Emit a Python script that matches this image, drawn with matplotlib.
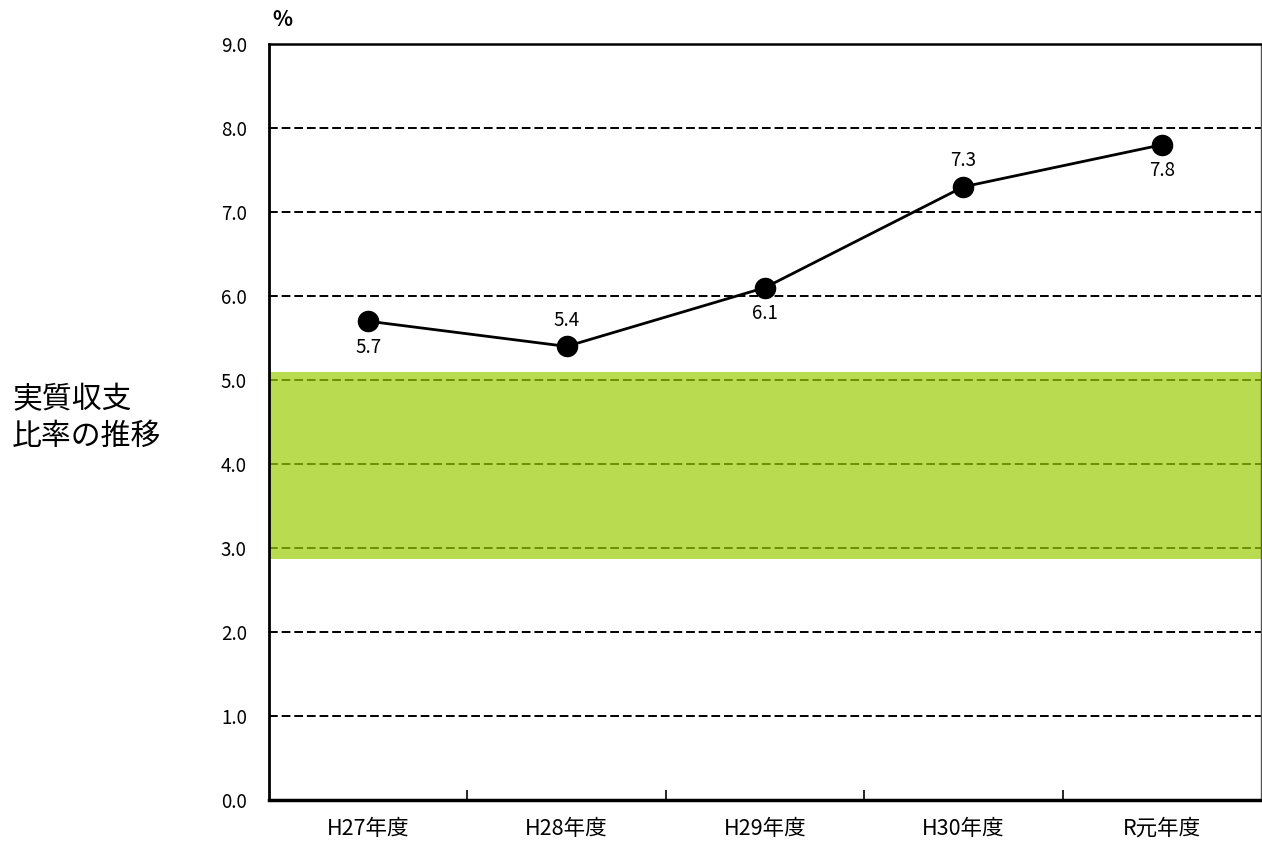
import matplotlib.pyplot as plt
import matplotlib as mpl

plt.rcParams['font.family'] = ['Noto Sans CJK JP', 'DejaVu Sans']

# 実質収支比率 (%)
years = ['H27年度', 'H28年度', 'H29年度', 'H30年度', 'R元年度']
ratios = [5.7, 5.4, 6.1, 7.3, 7.8]
label_above = [False, True, False, True, False]
# 望ましい範囲の帯 (%)
band_low, band_high = 2.87, 5.1
yticks = [0, 1, 2, 3, 4, 5, 6, 7, 8, 9]

fig = plt.figure(figsize=(12.62, 8.41), dpi=100)
ax = fig.add_axes([269/1262, 1-800/841, 992/1262, 756/841])

x = list(range(len(years)))
ax.set_xlim(-0.5, len(years)-0.5)
ax.set_ylim(0, 9)

#dashed horizontal grid lines
for v in yticks[1:]:
	ax.axhline(v, color='black', lw=1.4, ls=(0, (4.5, 2)), zorder=1)

#green band (semi transparent so the grid shows through)
ax.axhspan(band_low, band_high, color='#9acc04', alpha=0.7, lw=0, zorder=2)

ax.plot(x, ratios, '-', color='black', lw=2, zorder=3)
ax.plot(x, ratios, 'o', color='black', ms=14.5, zorder=4)
for xi, v, up in zip(x, ratios, label_above):
	off = 0.31 if up else -0.31
	ax.text(xi, v+off, '%.1f' % v, ha='center', va='center', fontsize=13.5, zorder=5)

ax.set_yticks(yticks)
ax.set_yticklabels(['%.1f' % v for v in yticks], fontsize=13.5)
ax.tick_params(axis='y', length=0, pad=16)

ax.set_xticks(x)
ax.set_xticklabels(years, fontsize=15.5)
ax.set_xticks([i+0.5 for i in x[:-1]], minor=True)
ax.tick_params(axis='x', which='major', length=0, pad=13)
ax.tick_params(axis='x', which='minor', direction='in', length=7, width=1.2, color='black')

ax.spines['left'].set_linewidth(2)
ax.spines['bottom'].set_linewidth(2.5)
ax.spines['top'].set_linewidth(1.8)
ax.spines['right'].set_linewidth(1)
ax.spines['right'].set_color('#555555')
for s in ax.spines.values():
	s.set_zorder(6)

fig.text(272/1262, 1-20/841, '%', fontsize=15, ha='left', va='center', fontweight='bold')
fig.text(12/1262, 1-418/841, '実質収支\n比率の推移', fontsize=21.5, ha='left', va='center', linespacing=1.25)

plt.savefig('out.png', dpi=100)
